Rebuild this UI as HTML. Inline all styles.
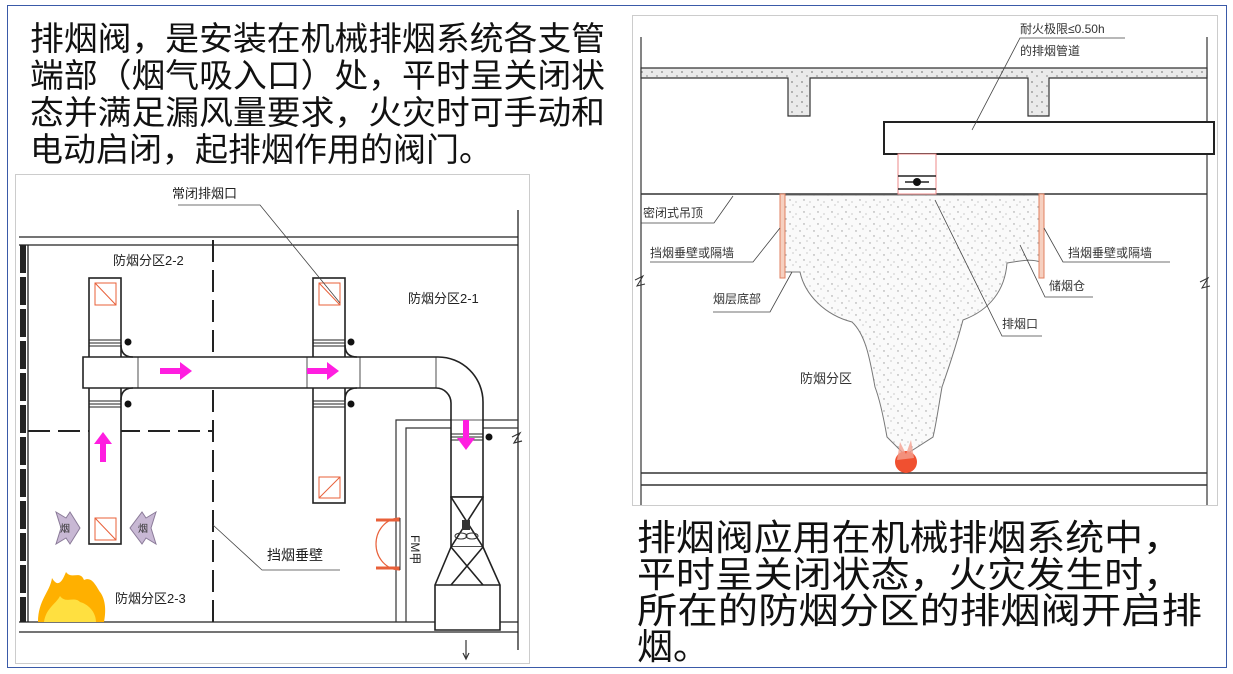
<!DOCTYPE html>
<html><head><meta charset="utf-8"><style>
body{margin:0;background:#fff;}
svg{display:block;}
.t{font-family:"Liberation Sans","Noto Sans CJK SC",sans-serif;}
</style></head><body>
<svg width="1233" height="674" viewBox="0 0 1233 674" xmlns="http://www.w3.org/2000/svg">
<defs>
<pattern id="dots" width="14" height="12" patternUnits="userSpaceOnUse">
<rect width="14" height="12" fill="#fafafa"/>
<circle cx="2" cy="3" r="0.7" fill="#999"/><circle cx="9" cy="1" r="0.6" fill="#aaa"/>
<circle cx="6" cy="8" r="0.7" fill="#999"/><circle cx="12" cy="10" r="0.6" fill="#aaa"/>
</pattern>
<pattern id="slab" width="10" height="10" patternUnits="userSpaceOnUse">
<rect width="10" height="10" fill="#eaeaea"/>
<circle cx="2" cy="2" r="0.9" fill="#888"/><circle cx="7" cy="6" r="0.9" fill="#999"/>
</pattern>
</defs>
<rect x="0" y="0" width="1233" height="674" fill="#fff"/>
<rect x="7.5" y="5.5" width="1219" height="662" fill="none" stroke="#3a5aa8" stroke-width="1"/>

<!-- top-left text -->
<g class="t" font-size="33" fill="#111">
<text x="30" y="50" textLength="575" lengthAdjust="spacingAndGlyphs">排烟阀，是安装在机械排烟系统各支管</text>
<text x="30" y="87" textLength="575" lengthAdjust="spacingAndGlyphs">端部（烟气吸入口）处，平时呈关闭状</text>
<text x="30" y="124" textLength="575" lengthAdjust="spacingAndGlyphs">态并满足漏风量要求，火灾时可手动和</text>
<text x="30" y="161">电动启闭，起排烟作用的阀门。</text>
</g>

<!-- bottom-right text -->
<g class="t" font-size="36" fill="#111">
<text x="637" y="550" textLength="545" lengthAdjust="spacingAndGlyphs">排烟阀应用在机械排烟系统中，</text>
<text x="637" y="587" textLength="545" lengthAdjust="spacingAndGlyphs">平时呈关闭状态，火灾发生时，</text>
<text x="637" y="623" textLength="565" lengthAdjust="spacingAndGlyphs">所在的防烟分区的排烟阀开启排</text>
<text x="637" y="659">烟。</text>
</g>

<!-- LEFT DIAGRAM -->
<rect x="15.5" y="174.5" width="514" height="489" fill="#fff" stroke="#ccc"/>
<g stroke="#222" fill="none" stroke-width="1.3">
<line x1="19" y1="237" x2="518" y2="237"/>
<line x1="19" y1="245" x2="518" y2="245"/>
<line x1="19" y1="622" x2="518" y2="622"/>
<line x1="19" y1="632" x2="518" y2="632"/>
<line x1="518" y1="210" x2="518" y2="650"/>
<line x1="28" y1="245" x2="28" y2="622"/>
</g>
<line x1="23" y1="245" x2="23" y2="622" stroke="#222" stroke-width="6" stroke-dasharray="28,4"/>
<line x1="213" y1="240" x2="213" y2="622" stroke="#222" stroke-width="2" stroke-dasharray="22,8"/>
<line x1="28" y1="431" x2="212" y2="431" stroke="#222" stroke-width="2" stroke-dasharray="22,8"/>
<!-- room at right -->
<g stroke="#333" fill="none" stroke-width="1.2">
<polyline points="396,622 396,420 518,420"/>
<polyline points="406,622 406,428 518,428"/>
<path d="M512,437 l8,-4 l-6,10 l8,-2"/>
<line x1="466" y1="640" x2="466" y2="658"/><path d="M463,653 l3,6 l3,-6"/>
</g>
<!-- ducts -->
<g stroke="#222" fill="#fff" stroke-width="1.6">
<rect x="89" y="278" width="32" height="266"/>
<rect x="313" y="278" width="32" height="225"/>
<path d="M83,357 H438 A45,45 0 0 1 483,402 V497 H451 V403 A15,15 0 0 0 436,388 H83 Z"/>
<line x1="138" y1="357" x2="138" y2="388" stroke-width="0.8"/>
<line x1="307" y1="357" x2="307" y2="388" stroke-width="0.8"/>
<line x1="360" y1="357" x2="360" y2="388" stroke-width="0.8"/>
<line x1="436" y1="357" x2="436" y2="388" stroke-width="0.8"/>
<line x1="451" y1="420" x2="483" y2="420" stroke-width="0.8"/>
<path d="M121,345 q0,12 12,12 M121,400 q0,-12 12,-12 M345,345 q0,12 12,12 M345,400 q0,-12 12,-12" fill="none"/>
<!-- fan housing -->
<rect x="451" y="497" width="32" height="50"/>
<path d="M451,497 L483,547 M483,497 L451,547" fill="none"/>
<path d="M451,547 L435,585 V630 H500 V585 L483,547" />
<line x1="435" y1="585" x2="500" y2="585"/>
<path d="M451,547 L483,585 M483,547 L451,585" fill="none"/>
</g>
<!-- dampers -->
<g stroke="#222" stroke-width="1">
<line x1="89" y1="340" x2="121" y2="340"/><line x1="89" y1="343" x2="121" y2="343"/><line x1="89" y1="346" x2="121" y2="346"/>
<line x1="89" y1="401" x2="121" y2="401"/><line x1="89" y1="404" x2="121" y2="404"/><line x1="89" y1="407" x2="121" y2="407"/>
<line x1="313" y1="340" x2="345" y2="340"/><line x1="313" y1="343" x2="345" y2="343"/><line x1="313" y1="346" x2="345" y2="346"/>
<line x1="313" y1="401" x2="345" y2="401"/><line x1="313" y1="404" x2="345" y2="404"/><line x1="313" y1="407" x2="345" y2="407"/>
<line x1="451" y1="434" x2="483" y2="434"/><line x1="451" y1="437" x2="483" y2="437"/><line x1="451" y1="440" x2="483" y2="440"/>
</g>
<g fill="#111">
<circle cx="128" cy="342" r="3.5"/><circle cx="128" cy="404" r="3.5"/>
<circle cx="351" cy="342" r="3.5"/><circle cx="351" cy="404" r="3.5"/>
<circle cx="489" cy="437" r="3.5"/>
</g>
<!-- fan -->
<rect x="462" y="520" width="8" height="10" fill="#333"/>
<ellipse cx="461" cy="536" rx="6" ry="3" fill="none" stroke="#333"/><ellipse cx="472" cy="536" rx="6" ry="3" fill="none" stroke="#333"/>
<!-- red squares -->
<g stroke="#e8603a" fill="none" stroke-width="1">
<rect x="95" y="283" width="21" height="22"/><line x1="95" y1="283" x2="116" y2="305"/>
<rect x="319" y="283" width="21" height="22"/><line x1="319" y1="283" x2="340" y2="305"/>
<rect x="95" y="518" width="21" height="22"/><line x1="95" y1="518" x2="116" y2="540"/>
<rect x="319" y="477" width="21" height="21"/><line x1="340" y1="477" x2="319" y2="498"/>
<!-- door -->
<path d="M400,518 A24,26 0 0 0 376,544 A24,26 0 0 0 400,570" stroke-width="1.2"/>
<line x1="376" y1="520" x2="400" y2="520" stroke-width="3"/><line x1="376" y1="568" x2="400" y2="568" stroke-width="3"/>
</g>
<line x1="400" y1="518" x2="400" y2="570" stroke="#333"/>
<!-- magenta arrows -->
<g fill="#ff1ee0">
<path d="M160,368 h20 v-6 l12,9 l-12,9 v-6 h-20 z"/>
<path d="M307,368 h20 v-6 l12,9 l-12,9 v-6 h-20 z"/>
<path d="M100,462 v-18 h-6 l9,-12 l9,12 h-6 v18 z"/>
<path d="M463,420 v18 h-6 l9,12 l9,-12 h-6 v-18 z"/>
</g>
<!-- smoke arrows -->
<g fill="#c8b8d4" stroke="#8a7a98" stroke-width="1">
<path d="M56,512 l10,6 l4,-6 l10,16 l-10,16 l-4,-6 l-10,6 l5,-16 z"/>
<path d="M156,512 l-10,6 l-4,-6 l-12,16 l12,16 l4,-6 l10,6 l-5,-16 z"/>
</g>
<g class="t" font-size="10" fill="#333"><text x="60" y="532">烟</text><text x="138" y="532">烟</text></g>
<!-- fire -->
<path d="M38,622 C38,600 50,592 52,578 C58,588 62,582 66,572 C72,580 80,570 84,580 C92,576 96,586 100,592 C106,600 106,612 104,622 Z" fill="#ffb000"/>
<path d="M44,622 C46,608 56,604 60,596 C66,604 74,596 80,602 C88,604 96,612 96,622 Z" fill="#ffe040"/>
<!-- labels -->
<g class="t" fill="#222" font-size="13">
<text x="172" y="198">常闭排烟口</text>
<text x="113" y="265">防烟分区2-2</text>
<text x="408" y="303">防烟分区2-1</text>
<text x="267" y="560" font-size="14">挡烟垂壁</text>
<text x="115" y="603">防烟分区2-3</text>
<text transform="translate(411,535) rotate(90)" font-size="12">FM甲</text>
</g>
<g stroke="#444" fill="none" stroke-width="0.8">
<polyline points="178,205 260,205 340,303"/>
<polyline points="213,525 262,570 340,570"/>
</g>

<!-- RIGHT DIAGRAM -->
<rect x="632.5" y="15.5" width="585" height="490" fill="#fff" stroke="#ccc"/>
<g stroke="#333" fill="none" stroke-width="1.2">
<line x1="641" y1="37" x2="641" y2="505"/>
<line x1="1207" y1="37" x2="1207" y2="505"/>
<line x1="641" y1="194" x2="1207" y2="194" stroke-width="1.6"/>
<line x1="641" y1="473" x2="1207" y2="473" stroke-width="1.6"/>
<line x1="641" y1="485" x2="1207" y2="485" stroke-width="1.6"/>
<path d="M635,280 l8,-4 l-6,10 l8,-2" stroke-width="1"/>
<path d="M1200,282 l8,-4 l-6,10 l8,-2" stroke-width="1"/>
</g>
<path d="M641,68 H1207 V78 H1049 V116 H1028 V78 H810 V116 H788 V78 H641 Z" fill="url(#slab)" stroke="#333" stroke-width="1.2"/>
<rect x="884" y="122" width="330" height="32" fill="#fff" stroke="#222" stroke-width="2"/>
<rect x="898" y="154" width="38" height="40" fill="#fff" stroke="#e88" stroke-width="1"/>
<line x1="898" y1="176" x2="936" y2="176" stroke="#222" stroke-width="1.5"/>
<line x1="898" y1="189" x2="936" y2="189" stroke="#222" stroke-width="1.5"/>
<line x1="905" y1="182" x2="929" y2="182" stroke="#222" stroke-width="1.5"/>
<circle cx="917" cy="182" r="4" fill="#111"/>
<line x1="898" y1="196" x2="936" y2="196" stroke="#f04020" stroke-width="3"/>
<!-- smoke -->
<path d="M785,195 H1040 V262 C1030,258 1015,262 1007,263 C1005,290 990,310 963,320 C955,350 948,370 942,387 C938,410 936,425 933,437 L905,455 L887,437 C884,420 880,400 875,387 C870,360 866,335 852,322 C825,315 805,295 800,272 L785,272 Z" fill="url(#dots)" stroke="#777" stroke-width="1"/>
<rect x="780" y="194" width="5" height="84" fill="#f6d0c0" stroke="#e08060" stroke-width="1"/>
<rect x="1039" y="194" width="5" height="84" fill="#f6d0c0" stroke="#e08060" stroke-width="1"/>
<!-- fire -->
<ellipse cx="906" cy="462" rx="11" ry="11" fill="#f05030"/>
<path d="M897,460 l3,-18 l6,12 l5,-14 l3,18 z" fill="#f4a090" opacity="0.8"/>
<g class="t" fill="#333" font-size="12">
<text x="1020" y="33">耐火极限≤0.50h</text>
<text x="1020" y="55">的排烟管道</text>
<text x="643" y="217">密闭式吊顶</text>
<text x="650" y="257">挡烟垂壁或隔墙</text>
<text x="713" y="303">烟层底部</text>
<text x="1068" y="257">挡烟垂壁或隔墙</text>
<text x="1049" y="290">储烟仓</text>
<text x="1002" y="328">排烟口</text>
<text x="800" y="383" font-size="13">防烟分区</text>
</g>
<g stroke="#444" fill="none" stroke-width="0.8">
<polyline points="1125,38 1020,38 972,130"/>
<polyline points="641,223 714,223 733,196"/>
<polyline points="650,262 753,262 780,228"/>
<polyline points="713,312 770,312 792,272"/>
<polyline points="1170,262 1063,262 1044,228"/>
<polyline points="1093,297 1045,297 1020,245"/>
<polyline points="1042,336 1002,336 935,200"/>
</g>
</svg>
</body></html>
